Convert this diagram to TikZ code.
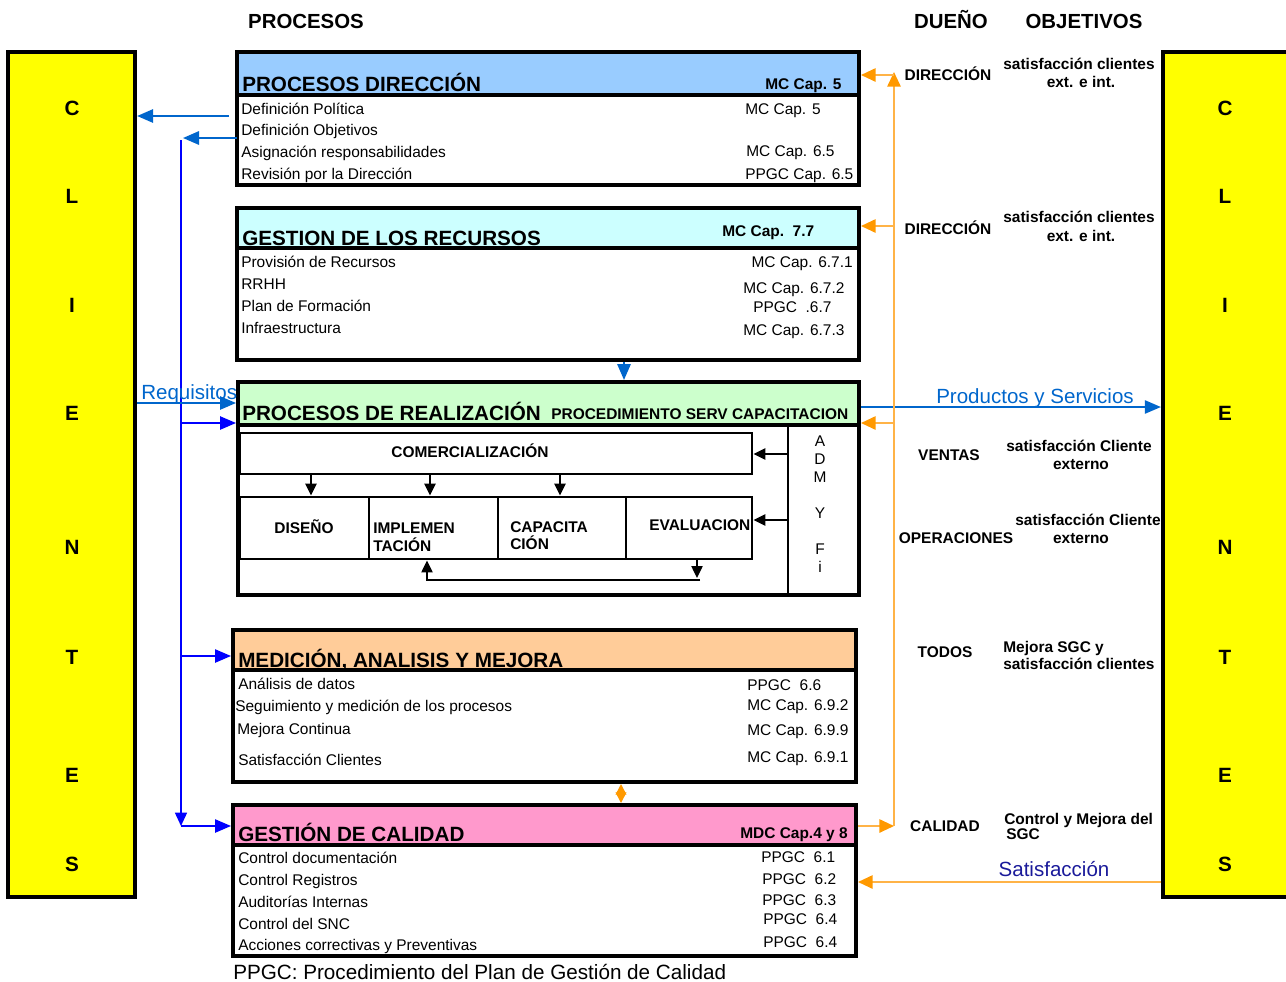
\documentclass[tikz,border=0pt]{standalone}
\usepackage{fontspec}
\setmainfont{Liberation Sans}
\usetikzlibrary{arrows.meta,fit}
\definecolor{hblue}{HTML}{99CCFF}
\definecolor{hcyan}{HTML}{CCFFFF}
\definecolor{hgreen}{HTML}{CCFFCC}
\definecolor{hpeach}{HTML}{FFCC99}
\definecolor{hpink}{HTML}{FF99CC}
\definecolor{cyellow}{HTML}{FFFF00}
\definecolor{arrblue}{HTML}{0066CC}
\definecolor{vblue}{HTML}{0000FF}
\definecolor{olinec}{HTML}{FFB347}
\definecolor{otip}{HTML}{FF9900}
\definecolor{navy}{HTML}{1A1A9A}
\newcommand\fsz[1]{\fontsize{#1}{#1}\selectfont}
\tikzset{
  blk/.style={draw=black,line width=3pt,inner sep=0pt},
  inbox/.style={draw=black,line width=2.2pt,inner sep=0pt},
  txt/.style={inner sep=0pt,anchor=base west,font=\fsz{11.6}},
  txte/.style={inner sep=0pt,anchor=base east,font=\fsz{11.6}},
  txtc/.style={inner sep=0pt,anchor=base,font=\fsz{11.6}},
  ttl/.style={inner sep=0pt,anchor=base west,font=\fsz{15.5}\bfseries},
  sml/.style={inner sep=0pt,anchor=base west,font=\fsz{11.6}\bfseries},
  smlc/.style={inner sep=0pt,anchor=base,font=\fsz{11.6}\bfseries},
  letter/.style={inner sep=0pt,anchor=center,font=\fsz{15.5}\bfseries},
  head/.style={inner sep=0pt,anchor=base,font=\fsz{15.3}\bfseries},
  bluelab/.style={inner sep=0pt,font=\fsz{15.4}},
  barrow/.style={draw=arrblue,line width=1.5pt,-{Triangle[length=12pt,width=10pt]}},
  vline/.style={draw=vblue,line width=1.1pt},
  varrow/.style={draw=vblue,line width=1.1pt,-{Triangle[length=10pt,width=9pt]}},
  karrow/.style={draw=black,line width=1.2pt,-{Triangle[length=9pt,width=8.5pt]}},
  oarrow/.style={draw=olinec,line width=1.4pt,-{Triangle[length=11pt,width=10pt,color=otip]}},
  oline/.style={draw=olinec,line width=1.4pt},
}
\begin{document}
\begin{tikzpicture}[x=0.75pt,y=-0.75pt]
\useasboundingbox (0,0) rectangle (1286,982);

% column headers
\node[head] (hproc) at (306,28) {PROCESOS};
\node[head] (hdueno) at (951,28) {DUEÑO};
\node[head] (hobj) at (1084,28) {OBJETIVOS};

% client boxes
\node[blk,line width=3.2pt,fill=cyellow,fit={(8,52)(135,897)}] (L) {};
\node[blk,line width=3.2pt,fill=cyellow,fit={(1163,52)(1310,897)}] (R) {};
\foreach \ch/\y [count=\i] in {C/108,L/196,I/305,E/413,N/547,T/657,E/775,S/864}{
  \node[letter,name=lc\i] at (72,\y) {\ch};
  \node[letter,name=rc\i] at (1225,\y) {\ch};
}

% block 1
\node[blk,fill=hblue,fit={(237,52)(859,95)}] (h1) {};
\node[blk,fit={(237,52)(859,185)}] (b1) {};
\node[ttl] (t1) at (242,91) {PROCESOS DIRECCIÓN};
\node[sml] (c1) at (765,89) {MC Cap. 5};
\foreach \t/\y [count=\i] in {Definición Política/114,Definición Objetivos/135,Asignación responsabilidades/157,Revisión por la Dirección/179}
  \node[txt,name=r1\i] at (241,\y) {\t};
\node[txt] (m11) at (745,114) {MC Cap. 5};
\node[txt] (m12) at (746,156) {MC Cap. 6.5};
\node[txt] (m13) at (745,179) {PPGC Cap. 6.5};

% block 2
\node[blk,fill=hcyan,fit={(237,208)(859,248)}] (h2) {};
\node[blk,fit={(237,208)(859,360)}] (b2) {};
\node[ttl] (t2) at (242,245) {GESTION DE LOS RECURSOS};
\node[sml] (c2) at (722,236) {MC Cap.~~7.7};
\foreach \t/\y [count=\i] in {Provisión de Recursos/267,RRHH/289,Plan de Formación/311,Infraestructura/333}
  \node[txt,name=r2\i] at (241,\y) {\t};
\node[txte] (m21) at (853,267) {MC Cap. 6.7.1};
\node[txt] (m22) at (743,293) {MC Cap. 6.7.2};
\node[txt] (m23) at (753,312) {PPGC~~.6.7};
\node[txt] (m24) at (743,335) {MC Cap. 6.7.3};

% block 3
\node[blk,fill=hgreen,fit={(238,382)(859,425)}] (h3) {};
\node[blk,fit={(238,382)(859,595)}] (b3) {};
\node[ttl] (t3) at (242,420) {PROCESOS DE REALIZACIÓN};
\node[sml] (c3) at (551,419) {PROCEDIMIENTO SERV CAPACITACION};
\node[inbox,fit={(240,433)(752,474)}] (com) {};
\node[smlc] (comt) at (470,457) {COMERCIALIZACIÓN};
\node[inbox,fit={(240,497)(369,559)}] (dis) {};
\node[inbox,fit={(369,497)(498,559)}] (imp) {};
\node[inbox,fit={(498,497)(626,559)}] (cap) {};
\node[inbox,fit={(626,497)(752,559)}] (eva) {};
\node[smlc] (dist) at (304,533) {DISEÑO};
\node[sml] (impt1) at (373,533) {IMPLEMEN};
\node[sml] (impt2) at (373,551) {TACIÓN};
\node[sml] (capt1) at (510,532) {CAPACITA};
\node[sml] (capt2) at (510,549) {CIÓN};
\node[sml] (evat) at (649,530) {EVALUACION};
\coordinate (admtop) at (788,425);
\coordinate (admbot) at (788,595);
\draw[line width=1.6pt] (admtop) -- (admbot);
\foreach \ch/\y [count=\i] in {A/446,D/464,M/482,Y/518,F/554,i/572}
  \node[txtc,name=adm\i] at (820,\y) {\ch};
\draw[karrow] (com.south -| 311,0) -- (dis.north -| 311,0);
\draw[karrow] (com.south -| 430,0) -- (imp.north -| 430,0);
\draw[karrow] (com.south -| 560,0) -- (cap.north -| 560,0);
\draw[karrow] (admtop |- 0,454) -- (com.east |- 0,454);
\draw[karrow] (admtop |- 0,520) -- (eva.east |- 0,520);
\coordinate (lpa) at (697,578);
\coordinate (lpb) at (700,580);
\coordinate (lpc) at (427,580);
\draw[karrow,line width=1pt] (eva.south -| 697,0) -- (lpa);
\draw[karrow,line width=1pt] (lpb) -- (lpc) -- (imp.south -| 427,0);

% block 4
\node[blk,fill=hpeach,fit={(233,630)(856,670)}] (h4) {};
\node[blk,fit={(233,630)(856,782)}] (b4) {};
\node[ttl] (t4) at (238,667) {MEDICIÓN, ANALISIS Y MEJORA};
\node[txt] (r41) at (238,689) {Análisis de datos};
\node[txt] (r42) at (235,711) {Seguimiento y medición de los procesos};
\node[txt] (r43) at (237,734) {Mejora Continua};
\node[txt] (r44) at (238,765) {Satisfacción Clientes};
\node[txt] (m41) at (747,690) {PPGC~~6.6};
\node[txt] (m42) at (747,710) {MC Cap. 6.9.2};
\node[txt] (m43) at (747,735) {MC Cap. 6.9.9};
\node[txt] (m44) at (747,762) {MC Cap. 6.9.1};

% block 5
\node[blk,fill=hpink,fit={(233,805)(856,845)}] (h5) {};
\node[blk,fit={(233,805)(856,956)}] (b5) {};
\node[ttl] (t5) at (238,841) {GESTIÓN DE CALIDAD};
\node[sml] (c5) at (740,838) {MDC Cap.4 y 8};
\foreach \t/\y [count=\i] in {Control documentación/863,Control Registros/885,Auditorías Internas/907,Control del SNC/929,Acciones correctivas y Preventivas/950}
  \node[txt,name=r5\i] at (238,\y) {\t};
\node[txt] (m51) at (761,862) {PPGC~~6.1};
\node[txt] (m52) at (762,884) {PPGC~~6.2};
\node[txt] (m53) at (762,905) {PPGC~~6.3};
\node[txt] (m54) at (763,924) {PPGC~~6.4};
\node[txt] (m55) at (763,947) {PPGC~~6.4};

\node[inner sep=0pt,anchor=base west,font=\fsz{15.5}] (foot) at (233,979) {PPGC: Procedimiento del Plan de Gestión de Calidad};

% blue connectors
\coordinate (d1) at (229,116);
\draw[barrow] (d1) -- (L.east |- d1);
\coordinate (d2) at (237,138);
\coordinate (d2t) at (183,138);
\draw[barrow] (d2) -- (d2t);
\coordinate (vtop) at (181,140);
\coordinate (vbot) at (181,826);
\draw[varrow] (vtop) -- (vbot);
\draw[barrow,draw=vblue,line width=1.1pt] (vtop |- 0,423) -- (b3.west |- 0,423);
\draw[barrow,draw=vblue,line width=1.1pt] (vtop |- 0,656) -- (b4.west |- 0,656);
\draw[barrow,draw=vblue,line width=1.1pt] (vbot) -- (b5.west |- vbot);
\draw[barrow,line width=1.1pt] (L.east |- 0,403) -- (b3.west |- 0,403);
\node[bluelab,text=arrblue,anchor=base west] (req) at (141,399) {Requisitos};
\draw[barrow] (b2.south -| 624,0) -- (b3.north -| 624,0);
\draw[barrow,line width=1.1pt] (b3.east |- 0,407) -- (R.west |- 0,407);
\node[bluelab,text=arrblue,anchor=base] (prod) at (1035,403) {Productos y Servicios};

% orange connectors
\coordinate (ocorner) at (894,826);
\coordinate (otop) at (894,72);
\draw[oarrow] (b5.east |- ocorner) -- (ocorner);
\draw[oarrow] (ocorner) -- (otop);
\draw[oarrow] (otop |- 0,75) -- (b1.east |- 0,75);
\draw[oarrow] (otop |- 0,226) -- (b2.east |- 0,226);
\draw[oarrow] (otop |- 0,423) -- (b3.east |- 0,423);
\draw[oarrow] (R.west |- 0,882) -- (b5.east |- 0,882);
\node[bluelab,text=navy,anchor=base] (satis) at (1054,876) {Satisfacción};
\draw[draw=olinec,line width=1.2pt,{Triangle[length=8pt,width=8pt,color=otip]}-{Triangle[length=8pt,width=8pt,color=otip]}] (b4.south -| 621,0) -- (b5.north -| 621,0);

% owners
\node[smlc] (o1) at (948,80) {DIRECCIÓN};
\node[smlc] (o2) at (948,234) {DIRECCIÓN};
\node[smlc] (o3) at (949,460) {VENTAS};
\node[smlc] (o4) at (956,543) {OPERACIONES};
\node[smlc] (o5) at (945,657) {TODOS};
\node[smlc] (o6) at (945,831) {CALIDAD};

% objectives
\node[smlc] (ob1a) at (1079,69) {satisfacción clientes};
\node[smlc] (ob1b) at (1081,87) {ext. e int.};
\node[smlc] (ob2a) at (1079,222) {satisfacción clientes};
\node[smlc] (ob2b) at (1081,241) {ext. e int.};
\node[smlc] (ob3a) at (1079,451) {satisfacción Cliente};
\node[smlc] (ob3b) at (1081,469) {externo};
\node[smlc] (ob4a) at (1088,525) {satisfacción Cliente};
\node[smlc] (ob4b) at (1081,543) {externo};
\node[sml] (ob5a) at (1003,652) {Mejora SGC y};
\node[sml] (ob5b) at (1003,669) {satisfacción clientes};
\node[sml] (ob6a) at (1004,824) {Control y Mejora del};
\node[sml] (ob6b) at (1006,839) {SGC};
\end{tikzpicture}
\end{document}
